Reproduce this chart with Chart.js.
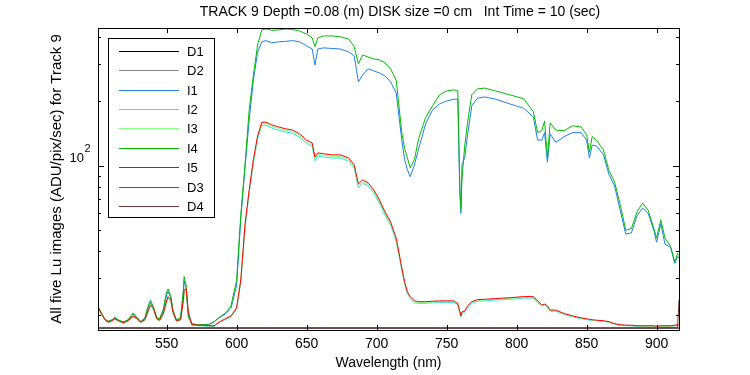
<!DOCTYPE html>
<html>
<head>
<meta charset="utf-8">
<script src="https://cdn.jsdelivr.net/npm/chart.js@4.4.1/dist/chart.umd.min.js"></script>
<style>
    html, body { margin: 0; padding: 0; background: #ffffff; }
    #wrap { width: 750px; height: 375px; }
</style>
</head>
<body>
<div id="wrap"><canvas id="myChart" width="750" height="375"></canvas></div>
<script>
// wavelength grid (nm)
const wavelengths = [
    501, 503.5, 506, 508.5, 511, 513, 515.5, 519, 522.5, 526, 528.5, 531.5, 534.5, 537, 538.5, 540.5, 543, 545, 547.5,
    550, 551, 553, 554.5, 557, 560, 562, 562.5, 564, 565.5, 568, 572, 576, 580, 584, 588, 592, 596, 600,
    603, 606, 609, 612, 615, 618, 621, 625, 630, 635, 640, 645, 650, 654, 656, 658, 662, 668, 674, 680,
    684, 687, 690, 694, 698, 702, 706, 710, 714, 718,
    720, 722, 724, 727, 730, 735, 740, 745, 750, 755, 758, 759.5, 760.2,
    761, 763, 765, 768, 772, 777, 785, 795, 805, 812, 815, 818, 820, 822, 824, 828, 834,
    840, 846, 850, 852, 854, 857, 862, 866, 870, 874, 878, 882, 886, 890, 894, 898, 900, 903, 906, 910, 913, 915, 916
];

const I1 = [
    21.9, 20.4, 19.1, 18.8, 19.0, 19.5, 19.0, 18.6, 19.0, 20.3, 19.6, 18.7, 19.4, 22.0, 23.0, 21.7, 19.4, 19.2, 20.9,
    25.0, 25.8, 24.2, 21.0, 19.0, 19.4, 25.5, 29.0, 27.0, 19.9, 18.3, 18.1, 18.1, 18.1, 18.7, 19.6, 20.3, 21.6, 27.5,
    57, 98, 164, 252, 340, 380, 385, 376, 380, 382, 385, 380, 364, 352, 296, 352, 356, 354, 352, 341,
    327, 247, 266, 284, 278, 272, 263, 247, 219, 132,
    107, 96, 89, 101, 120, 157, 183, 195, 201, 205, 205, 73, 60,
    101, 110, 140, 191, 207, 210, 205, 195, 186, 169, 132, 132, 143, 104, 141, 129, 137,
    143, 143, 132, 109, 125, 124, 113, 91, 80.6, 62, 48, 48.6, 58.4, 63.5, 60, 50, 44, 53.6, 43, 41.6, 35, 37.7, 37
];

const I2 = [
    21.8, 20.2, 19.0, 18.5, 18.8, 19.2, 18.8, 18.4, 18.8, 19.7, 19.3, 18.5, 19.0, 21.0, 22.1, 21.4, 19.2, 18.9, 20.1,
    23.0, 24.1, 23.4, 20.6, 18.8, 19.0, 23.3, 25.8, 26.2, 20.6, 18.0, 17.9, 17.9, 17.8, 17.8, 18.6, 19.1, 19.7, 21.4,
    28.6, 51.5, 75.0, 103.5, 133.5, 154.5, 154.5, 150.3, 146.8, 144, 142, 136.3, 127.5, 123.6, 105.5, 111.1, 110.1, 108.8, 108.8, 105.3,
    97.6, 78.8, 82.9, 80.4, 74.6, 67.0, 58.9, 52.8, 44.4, 32.6,
    28.1, 25.3, 24.0, 22.9, 22.8, 22.8, 22.9, 23.0, 23.0, 23.0, 22.4, 20.5, 19.6,
    20.5, 20.7, 21.9, 22.8, 23.3, 23.4, 23.6, 23.8, 24.1, 24.1, 23.0, 22.1, 22.3, 21.9, 20.9, 20.9, 20.2,
    19.7, 19.3, 19.1, 19.0, 19.0, 18.9, 18.8, 18.6, 18.2, 18.0, 17.9, 17.9, 17.8, 17.8, 17.8, 17.8, 17.8, 17.8, 17.8, 17.9, 17.9, 18.0, 18.0
];

const I3 = [
    21.9, 20.2, 19.0, 18.6, 18.8, 19.2, 18.8, 18.4, 18.8, 19.8, 19.3, 18.5, 19.0, 21.1, 22.2, 21.5, 19.2, 18.9, 20.2,
    23.2, 24.3, 23.5, 20.7, 18.8, 19.0, 23.5, 26.0, 26.5, 20.7, 18.1, 18.0, 18.0, 17.9, 17.9, 18.6, 19.2, 19.8, 21.5,
    29.0, 52.3, 76.2, 105.3, 135.8, 157.3, 157.3, 153, 149.5, 146.5, 144.5, 138.6, 129.8, 125.9, 107.8, 113.1, 112.1, 110.7, 110.7, 107.2,
    99.3, 80.6, 84.5, 81.9, 76.0, 68.2, 60.0, 53.8, 45.2, 33.0,
    28.4, 25.5, 24.2, 23.1, 23.0, 23.0, 23.1, 23.2, 23.2, 23.2, 22.5, 20.6, 19.7,
    20.6, 20.8, 22.0, 23.0, 23.5, 23.6, 23.8, 24.0, 24.3, 24.3, 23.2, 22.2, 22.4, 22.0, 21.0, 21.0, 20.3,
    19.8, 19.4, 19.2, 19.1, 19.0, 18.9, 18.8, 18.6, 18.3, 18.1, 18.0, 17.9, 17.9, 17.8, 17.9, 17.8, 17.8, 17.9, 17.8, 17.8, 18.0, 18.0, 18.1
];

const I4 = [
    22.0, 20.5, 19.2, 18.8, 19.1, 19.6, 19.1, 18.6, 19.1, 20.5, 19.7, 18.7, 19.5, 22.4, 23.6, 22.0, 19.5, 19.3, 21.2,
    25.8, 26.6, 24.7, 21.2, 19.1, 19.5, 26.3, 30.4, 27.5, 19.7, 18.3, 18.1, 18.1, 18.1, 18.7, 19.7, 20.5, 22.2, 29.2,
    59, 101, 183, 266, 368, 432, 437, 430, 432, 437, 434, 427, 413, 396, 361, 396, 405, 405, 401, 392,
    361, 300, 330, 323, 316, 313, 303, 284, 252, 143,
    121, 109, 98, 107, 134, 168, 191, 215, 224, 226.5, 224, 77, 63,
    88, 125, 160, 215, 229, 231, 224, 215, 206, 179, 143, 146, 162, 109, 159, 147, 146,
    154, 152, 140, 116, 137, 132, 119, 95, 84, 66, 50, 51, 61, 67, 62, 51, 46, 56, 46, 42, 35.5, 39, 38.4
];

const I5 = [
    22.0, 20.3, 19.1, 18.6, 18.9, 19.3, 18.9, 18.5, 18.9, 19.9, 19.4, 18.6, 19.1, 21.2, 22.4, 21.7, 19.3, 19.0, 20.3,
    23.4, 24.5, 23.7, 20.8, 18.9, 19.1, 23.7, 26.3, 26.7, 20.8, 18.1, 18.0, 18.0, 17.9, 17.9, 18.7, 19.3, 19.9, 21.7,
    29.3, 53, 77.3, 107, 138, 160, 160, 155.5, 152, 149, 147, 141, 132, 128, 110, 115, 114, 112.6, 112.6, 109,
    101, 82.4, 86, 83.3, 77.3, 69.4, 61, 54.7, 46, 33.4,
    28.7, 25.8, 24.5, 23.4, 23.2, 23.2, 23.3, 23.4, 23.4, 23.4, 22.7, 20.8, 19.9,
    20.8, 21.0, 22.2, 23.2, 23.7, 23.8, 24.0, 24.2, 24.5, 24.5, 23.4, 22.4, 22.6, 22.2, 21.2, 21.2, 20.4,
    19.9, 19.5, 19.3, 19.2, 19.1, 19.0, 18.9, 18.7, 18.3, 18.1, 18.0, 18.0, 17.9, 17.9, 17.9, 17.9, 17.8, 17.9, 17.9, 17.9, 18.0, 18.1, 18.1
];

// dark frames, on their own coarser grid
const darkWavelengths = [501, 540, 580, 620, 660, 700, 740, 780, 820, 860, 900, 915, 916];
const D1 = [17.40, 17.40, 17.40, 17.40, 17.40, 17.40, 17.40, 17.40, 17.40, 17.40, 17.40, 17.40, 17.40];
const D2 = [17.45, 17.45, 17.45, 17.45, 17.45, 17.45, 17.45, 17.45, 17.45, 17.45, 17.45, 17.45, 17.45];
const D3 = [17.50, 17.50, 17.50, 17.50, 17.50, 17.50, 17.50, 17.50, 17.50, 17.50, 17.50, 17.50, 17.50];
const D4 = [17.50, 17.50, 17.50, 17.50, 17.50, 17.50, 17.50, 17.50, 17.50, 17.50, 17.50, 17.60, 23.60];

const xTicks = [550, 600, 650, 700, 750, 800, 850, 900];
const yMinorTicks = [20, 30, 40, 50, 60, 70, 80, 90, 200, 300, 400];
const yMajorTicks = [100];

const FONT = "'Liberation Sans', Arial, sans-serif";

function pts(xs, ys) {
    return xs.map((x, i) => ({x: x, y: ys[i]}));
}

const seriesList = [
    {label: 'D1', data: pts(darkWavelengths, D1), color: '#000000'},
    {label: 'D2', data: pts(darkWavelengths, D2), color: '#888888'},
    {label: 'I1', data: pts(wavelengths, I1), color: '#1f80e8'},
    {label: 'I2', data: pts(wavelengths, I2), color: '#30e6e6'},
    {label: 'I3', data: pts(wavelengths, I3), color: '#80ff80'},
    {label: 'I4', data: pts(wavelengths, I4), color: '#00bb00'},
    {label: 'I5', data: pts(wavelengths, I5), color: '#ff0000'},
    {label: 'D3', data: pts(darkWavelengths, D3), color: '#844848'},
    {label: 'D4', data: pts(darkWavelengths, D4), color: '#6e3c3c'},
];

// frame, inward ticks, the 10^2 label, title and legend
const decorations = {
    id: 'decorations',
    afterDatasetsDraw(chart) {
        const ctx = chart.ctx;
        const area = chart.chartArea;
        const xs = chart.scales.x;
        const ys = chart.scales.y;
        ctx.save();
        ctx.strokeStyle = '#000000';
        ctx.lineWidth = 1;
        ctx.beginPath();
        xTicks.forEach(v => {
            const px = Math.round(xs.getPixelForValue(v)) + 0.5;
            ctx.moveTo(px, area.bottom); ctx.lineTo(px, area.bottom - 5);
            ctx.moveTo(px, area.top); ctx.lineTo(px, area.top + 5);
        });
        yMinorTicks.forEach(v => {
            const py = Math.round(ys.getPixelForValue(v)) + 0.5;
            ctx.moveTo(area.left, py); ctx.lineTo(area.left + 3, py);
            ctx.moveTo(area.right, py); ctx.lineTo(area.right - 3, py);
        });
        yMajorTicks.forEach(v => {
            const py = Math.round(ys.getPixelForValue(v)) + 0.5;
            ctx.moveTo(area.left, py); ctx.lineTo(area.left + 6, py);
            ctx.moveTo(area.right, py); ctx.lineTo(area.right - 6, py);
        });
        ctx.stroke();
        ctx.strokeRect(Math.round(area.left) + 0.5, Math.round(area.top) + 0.5,
            Math.round(area.right - area.left), Math.round(area.bottom - area.top));

        // 10^2 label
        ctx.fillStyle = '#000000';
        const p100 = ys.getPixelForValue(100);
        ctx.font = '13px ' + FONT;
        ctx.textAlign = 'right';
        ctx.textBaseline = 'alphabetic';
        ctx.fillText('10', 84, p100 - 4);
        ctx.font = '11px ' + FONT;
        ctx.textAlign = 'left';
        ctx.fillText('2', 84.5, p100 - 14);

        // title
        ctx.font = '14px ' + FONT;
        ctx.textAlign = 'center';
        ctx.textBaseline = 'middle';
        ctx.fillText('TRACK 9 Depth =0.08 (m) DISK size =0 cm   Int Time = 10 (sec)', 400, 12);

        // legend
        ctx.fillStyle = '#ffffff';
        ctx.fillRect(108.5, 38.5, 106, 179);
        ctx.strokeStyle = '#000000';
        ctx.strokeRect(108.5, 38.5, 106, 179);
        ctx.textAlign = 'left';
        ctx.font = '13px ' + FONT;
        chart.data.datasets.forEach((ds, i) => {
            const y = Math.round(50.7 + i * 19.4) + 0.5;
            ctx.strokeStyle = ds.borderColor;
            ctx.beginPath();
            ctx.moveTo(119, y);
            ctx.lineTo(179, y);
            ctx.stroke();
            ctx.fillStyle = '#000000';
            ctx.fillText(ds.label, 187, y + 0.5);
        });
        ctx.restore();
    }
};

const ctx = document.getElementById('myChart').getContext('2d');
const chart = new Chart(ctx, {
    type: 'line',
    data: {
        datasets: seriesList.map((s, i) => ({
            label: s.label,
            data: s.data,
            borderColor: s.color,
            backgroundColor: s.color,
            borderWidth: 1,
            pointRadius: 0,
            tension: 0,
            fill: false,
            order: seriesList.length - i,
        }))
    },
    options: {
        responsive: false,
        animation: false,
        events: [],
        layout: {
            padding: {left: 0, top: 28, right: 71, bottom: 0}
        },
        plugins: {
            legend: {display: false},
            title: {display: false},
            tooltip: {enabled: false}
        },
        scales: {
            x: {
                type: 'linear',
                min: 501,
                max: 916,
                afterFit: s => { s.height = 45; },
                afterBuildTicks: s => { s.ticks = xTicks.map(v => ({value: v})); },
                grid: {display: false, drawTicks: false},
                border: {display: false},
                ticks: {
                    color: '#000000',
                    font: {family: FONT, size: 14},
                    padding: 6,
                    maxRotation: 0,
                    autoSkip: false
                },
                title: {
                    display: true,
                    text: 'Wavelength (nm)',
                    color: '#000000',
                    font: {family: FONT, size: 14},
                    padding: {top: 0, bottom: 3}
                }
            },
            y: {
                type: 'logarithmic',
                min: 17.1,
                max: 441,
                afterFit: s => { s.width = 98; },
                grid: {display: false, drawTicks: false},
                border: {display: false},
                ticks: {display: false},
                title: {
                    display: true,
                    text: 'All five Lu images (ADU/pix/sec) for Track 9',
                    color: '#000000',
                    font: {family: FONT, size: 15},
                    padding: {top: 48, bottom: 0}
                }
            }
        }
    },
    plugins: [decorations]
});
</script>
</body>
</html>
